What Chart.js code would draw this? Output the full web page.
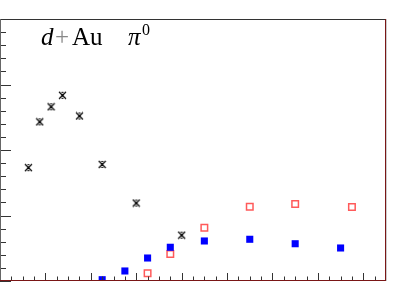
<!DOCTYPE html>
<html>
<head>
<meta charset="utf-8">
<script src="https://cdn.jsdelivr.net/npm/chart.js@4.4.1/dist/chart.umd.min.js"></script>
<style>
  html, body { margin: 0; padding: 0; background: #fff; }
  canvas { display: block; }
</style>
</head>
<body>
<canvas id="chart" width="415" height="282"></canvas>
<script>
// black crosses
const crossX = [0.625, 0.875, 1.125, 1.375, 1.75, 2.25, 3.0, 4.0];
const crossY = [1.73, 2.43, 2.66, 2.835, 2.52, 1.78, 1.19, 0.70];

// blue filled squares
const blueX = [2.25, 2.75, 3.25, 3.75, 4.5, 5.5, 6.5, 7.5];
const blueY = [0.02, 0.153, 0.351, 0.515, 0.611, 0.637, 0.569, 0.504];

// red open squares
const redX = [3.25, 3.75, 4.5, 5.5, 6.5, 7.75];
const redY = [0.118, 0.412, 0.814, 1.134, 1.176, 1.13];

const xMin = 0, xMax = 8.5;
const yMin = 0, yMax = 4;

function toPoints(xs, ys) {
  return xs.map((x, i) => ({ x: x, y: ys[i] }));
}

// X marker with little error caps, ROOT style
function makeCross() {
  const c = document.createElement('canvas');
  c.width = 9; c.height = 9;
  const g = c.getContext('2d');
  g.strokeStyle = '#000';
  g.lineWidth = 1.2;
  g.beginPath();
  g.moveTo(1, 1); g.lineTo(8, 8);
  g.moveTo(8, 1); g.lineTo(1, 8);
  g.moveTo(3.5, 1.5); g.lineTo(5.5, 1.5);
  g.moveTo(3.5, 7.5); g.lineTo(5.5, 7.5);
  g.stroke();
  g.fillStyle = '#000';
  g.fillRect(3.5, 3.5, 2, 2);
  return c;
}

const frameAndTicks = {
  id: 'frameAndTicks',
  afterDraw(chart) {
    const ctx = chart.ctx;
    const a = chart.chartArea;
    const xs = chart.scales.x, ys = chart.scales.y;
    ctx.save();
    ctx.lineWidth = 1;

    // ticks on bottom axis
    ctx.strokeStyle = '#333';
    ctx.beginPath();
    for (let k = 0; k <= 34; k++) {
      const v = k * 0.25;
      const px = Math.round(xs.getPixelForValue(v)) + 0.5;
      const len = (k % 4 === 0) ? 8 : 4.5;
      ctx.moveTo(px, a.bottom);
      ctx.lineTo(px, a.bottom - len);
    }
    // ticks on left axis
    for (let k = 0; k <= 20; k++) {
      const v = k * 0.2;
      const py = Math.round(ys.getPixelForValue(v)) + 0.5;
      const len = (k % 5 === 0) ? 11 : 6;
      ctx.moveTo(a.left, py);
      ctx.lineTo(a.left + len, py);
    }
    ctx.stroke();

    // frame
    ctx.strokeStyle = '#333';
    ctx.beginPath();
    ctx.moveTo(a.left, a.top + 0.5); ctx.lineTo(a.right, a.top + 0.5);
    ctx.stroke();
    ctx.strokeStyle = '#666';
    ctx.beginPath();
    ctx.moveTo(a.left + 0.5, a.top); ctx.lineTo(a.left + 0.5, a.bottom);
    ctx.stroke();
    ctx.strokeStyle = '#7a1616';
    ctx.beginPath();
    ctx.moveTo(a.left, a.bottom - 0.5); ctx.lineTo(a.right, a.bottom - 0.5);
    ctx.moveTo(a.right - 0.5, a.top); ctx.lineTo(a.right - 0.5, a.bottom);
    ctx.stroke();
    ctx.strokeStyle = '#ccc';
    ctx.beginPath();
    ctx.moveTo(a.right + 0.5, a.top); ctx.lineTo(a.right + 0.5, a.bottom);
    ctx.stroke();

    // label
    ctx.fillStyle = '#000';
    ctx.textBaseline = 'alphabetic';
    const base = 45;
    ctx.font = 'italic 25px "Liberation Serif"';
    ctx.fillText('d', 41, base);
    ctx.font = '25px "Liberation Serif"';
    ctx.fillStyle = '#888';
    ctx.fillText('+', 55, base);
    ctx.fillStyle = '#000';
    ctx.fillText('Au', 72, base);
    ctx.font = 'italic 25px "Liberation Serif"';
    ctx.fillText('\u03c0', 128, base);
    ctx.font = '16px "Liberation Serif"';
    ctx.fillText('0', 142, 35);
    ctx.restore();
  }
};

const chart = new Chart(document.getElementById('chart'), {
  type: 'scatter',
  data: {
    datasets: [
      {
        data: toPoints(crossX, crossY),
        pointStyle: makeCross(),
        clip: 0
      },
      {
        data: toPoints(blueX, blueY),
        pointStyle: 'rect',
        pointRadius: 5,
        backgroundColor: '#0000ff',
        borderColor: '#0000ff',
        borderWidth: 0,
        clip: 0
      },
      {
        data: toPoints(redX, redY),
        pointStyle: 'rect',
        pointRadius: 4.6,
        backgroundColor: 'rgba(255,255,255,0)',
        borderColor: '#ff5a5a',
        borderWidth: 1.5,
        clip: 0
      }
    ]
  },
  options: {
    responsive: false,
    animation: false,
    devicePixelRatio: 1,
    layout: { autoPadding: false, padding: { left: 0, right: 29, top: 19, bottom: 1 } },
    plugins: {
      legend: { display: false },
      tooltip: { enabled: false }
    },
    scales: {
      x: { type: 'linear', min: xMin, max: xMax, display: false },
      y: { type: 'linear', min: yMin, max: yMax, display: false }
    }
  },
  plugins: [frameAndTicks]
});
</script>
</body>
</html>
